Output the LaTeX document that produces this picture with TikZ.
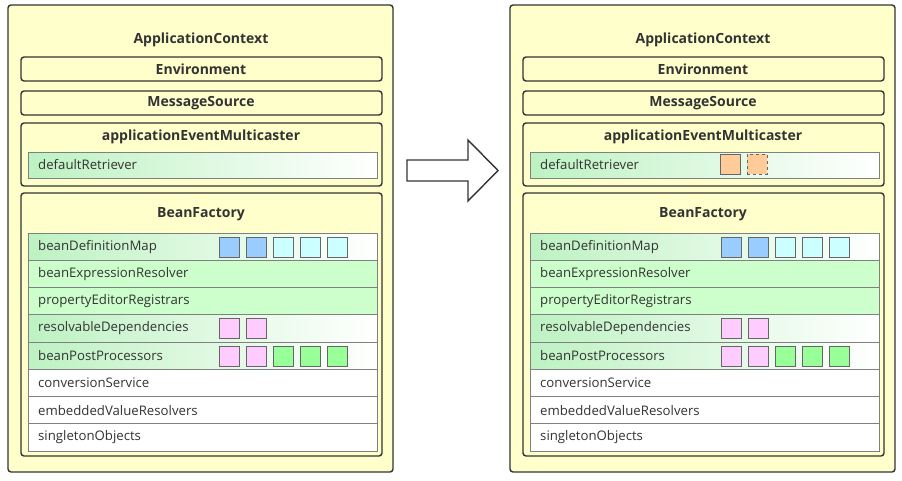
\documentclass[tikz,border=0pt]{standalone}
\usepackage{fontspec}
\setmainfont{Open Sans}
\usepackage{tikz}
\usetikzlibrary{calc}
\definecolor{ctxyellow}{HTML}{FFFFCC}
\definecolor{rowgreen}{HTML}{CCFFCC}
\definecolor{fadegreen}{HTML}{BDF2C2}
\definecolor{defblue}{HTML}{99CCFF}
\definecolor{defcyan}{HTML}{CCFFFF}
\definecolor{deppink}{HTML}{FFCCFF}
\definecolor{procgreen}{HTML}{99FF99}
\definecolor{retrorange}{HTML}{FFCC99}
\definecolor{edgegray}{HTML}{333333}

\tikzset{
  box/.style={draw=edgegray, line width=1.4pt, rounded corners=3pt, fill=ctxyellow},
  fadedrow/.style={draw=gray, line width=0.8pt, left color=fadegreen, right color=white},
  greenrow/.style={draw=gray, line width=0.8pt, fill=rowgreen},
  whiterow/.style={draw=gray, line width=0.8pt, fill=white},
  heading/.style={font=\bfseries\fontsize{14}{16}\selectfont, text=edgegray},
  field/.style={anchor=west, font=\fontsize{13.2}{15}\selectfont, text=edgegray, inner sep=0pt},
  cell/.style={draw=gray!80!black, line width=0.8pt, minimum size=20pt, inner sep=0pt, anchor=north west}
}

\begin{document}
\begin{tikzpicture}[x=1pt,y=-1pt]
  \path[use as bounding box, fill=white] (0,0) rectangle (902,480);
  % both contexts, before and after
  \foreach \p/\ox in {l/0,r/502}{
    \begin{scope}[xshift=\ox pt]
      % ApplicationContext
      \draw[box] (8,5) rectangle (393,472);
      \node[heading] (ctx\p) at (201,40) {ApplicationContext};
      \draw[box] (21,57) rectangle (382,81);
      \node[heading] (env\p) at (201,69) {Environment};
      \draw[box] (21,91) rectangle (382,115);
      \node[heading] (msg\p) at (201,103) {MessageSource};
      % multicaster
      \draw[box] (21,123) rectangle (382,186);
      \node[heading] (aem\p) at (201,137) {applicationEventMulticaster};
      \draw[fadedrow] (28,152) rectangle (377,178);
      \node[field] (retr\p) at (38,165) {defaultRetriever};
      % BeanFactory
      \draw[box] (21,193) rectangle (382,456);
      \node[heading] (bf\p) at (201,214) {BeanFactory};
      \foreach \name/\look [count=\i from 0] in {beanDefinitionMap/fadedrow,
          beanExpressionResolver/greenrow, propertyEditorRegistrars/greenrow,
          resolvableDependencies/fadedrow, beanPostProcessors/fadedrow,
          conversionService/whiterow, embeddedValueResolvers/whiterow,
          singletonObjects/whiterow}{
        \draw[\look] (28,{233+27.25*\i}) rectangle (377,{233+27.25*(\i+1)});
        \node[field] (row\p\i) at (38,{233+27.25*(\i+0.5)}) {\name};
      }
      % entries
      \foreach \c [count=\k from 0] in {defblue,defblue,defcyan,defcyan,defcyan}
        \node[cell, fill=\c] (bdm\p\k) at ({219+27*\k},236.5) {};
      \foreach \c [count=\k from 0] in {deppink,deppink}
        \node[cell, fill=\c] (dep\p\k) at ({219+27*\k},318) {};
      \foreach \c [count=\k from 0] in {deppink,deppink,procgreen,procgreen,procgreen}
        \node[cell, fill=\c] (bpp\p\k) at ({219+27*\k},345.5) {};
    \end{scope}
  }
  % new retriever entries
  \node[cell, fill=retrorange] (cache1) at (720,154) {};
  \node[cell, fill=retrorange, dashed] (cache2) at (747,154) {};
  % arrow
  \draw[draw=edgegray, line width=1.4pt, fill=white] (407,160) -- (468,160) -- (468,140)
    -- (498,170.5) -- (468,201) -- (468,181) -- (407,181) -- cycle;
\end{tikzpicture}
\end{document}
